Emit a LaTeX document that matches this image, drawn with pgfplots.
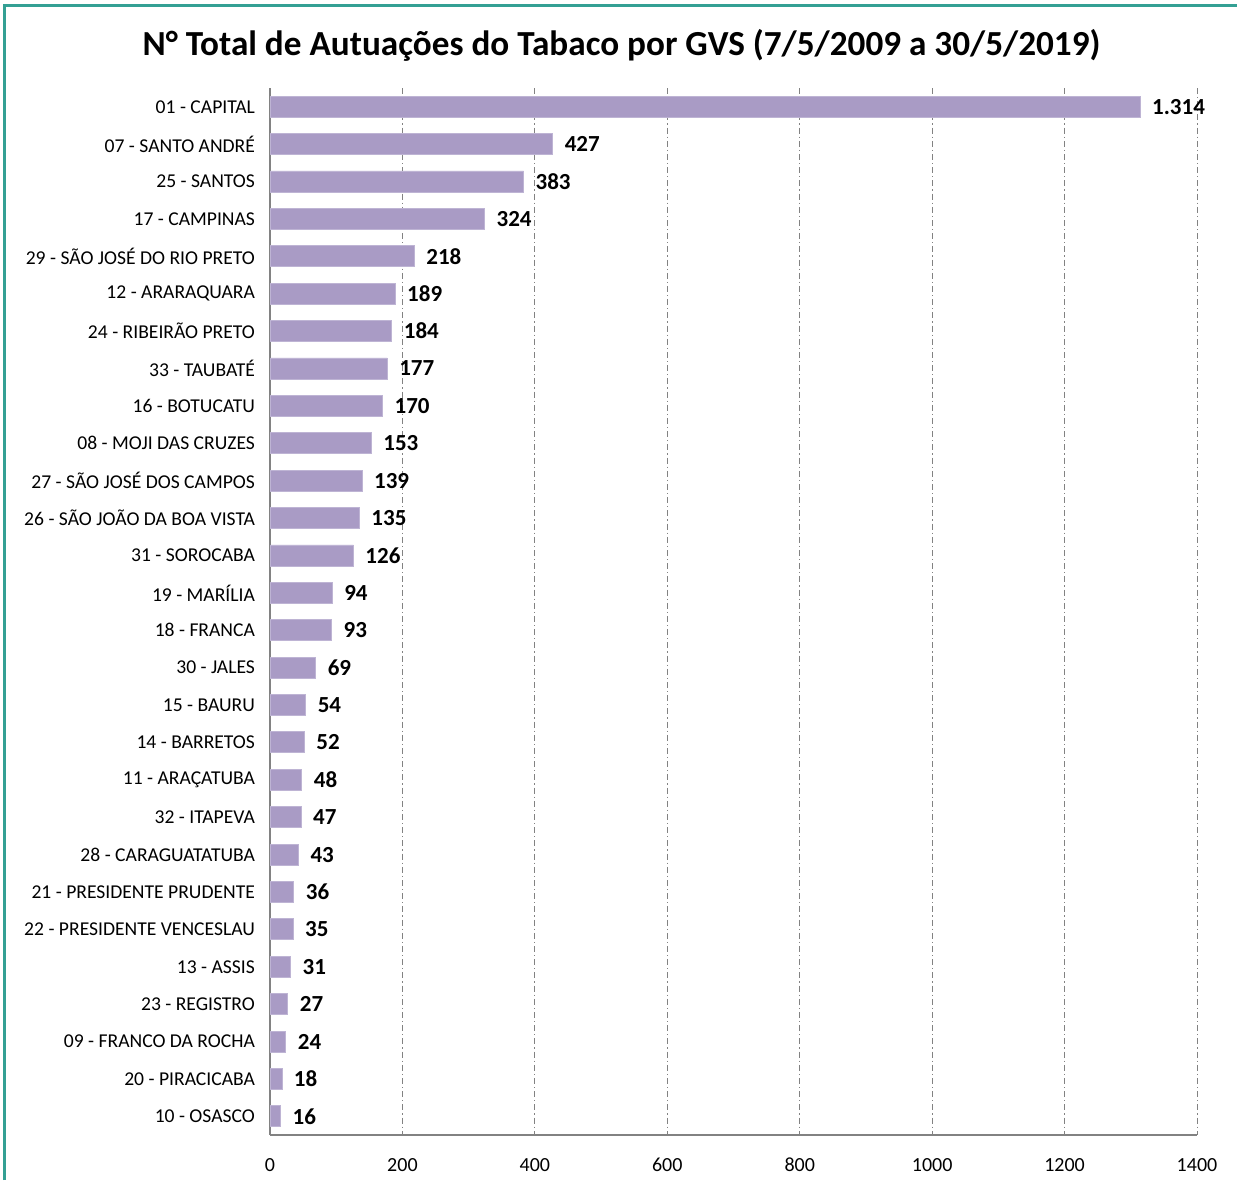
\documentclass[border=0pt]{standalone}
\usepackage{pgfplots}
\pgfplotsset{compat=1.18}
\usepackage{pgfplotstable}
\usepackage{fontspec}
\setmainfont{Carlito}
\definecolor{barcol}{RGB}{169,155,197}
\definecolor{baredge}{RGB}{190,180,212}
\definecolor{teal}{RGB}{52,160,148}
\definecolor{gridc}{RGB}{130,130,130}
\pgfplotstableread{
idx val
0 1314
1 427
2 383
3 324
4 218
5 189
6 184
7 177
8 170
9 153
10 139
11 135
12 126
13 94
14 93
15 69
16 54
17 52
18 48
19 47
20 43
21 36
22 35
23 31
24 27
25 24
26 18
27 16
}\datatab
\begin{document}
\begin{tikzpicture}
\useasboundingbox (0,0) rectangle (618.5pt,590pt);
\draw[teal,line width=1.2pt] (2.3pt,0) -- (2.3pt,587.3pt) -- (618.5pt,587.3pt);
\node[font=\bfseries\fontsize{17.6}{20}\selectfont] at (310.75pt,567.5pt) {N° Total de Autuações do Tabaco por GVS (7/5/2009 a 30/5/2019)};
\begin{axis}[
  at={(135pt,22.5pt)}, anchor=south west,
  scale only axis, width=463.5pt, height=523.5pt,
  xbar, bar width=10.5pt,
  xmin=0, xmax=1400,
  ymin=-0.5, ymax=27.5,
  y dir=reverse,
  axis lines*=left,
  axis line style={gridc, line width=0.6pt},
  xtick={0,200,...,1400},
  ytick=data,
  yticklabels={01 - CAPITAL,07 - SANTO ANDRÉ,25 - SANTOS,17 - CAMPINAS,29 - SÃO JOSÉ DO RIO PRETO,12 - ARARAQUARA,24 - RIBEIRÃO PRETO,33 - TAUBATÉ,16 - BOTUCATU,08 - MOJI DAS CRUZES,27 - SÃO JOSÉ DOS CAMPOS,26 - SÃO JOÃO DA BOA VISTA,31 - SOROCABA,19 - MARÍLIA,18 - FRANCA,30 - JALES,15 - BAURU,14 - BARRETOS,11 - ARAÇATUBA,32 - ITAPEVA,28 - CARAGUATATUBA,21 - PRESIDENTE PRUDENTE,22 - PRESIDENTE VENCESLAU,13 - ASSIS,23 - REGISTRO,09 - FRANCO DA ROCHA,20 - PIRACICABA,10 - OSASCO},
  major tick length=0pt,
  xmajorgrids,
  major grid style={gridc, dash pattern=on 3pt off 1.5pt on 0.6pt off 1.5pt, line width=0.5pt},
  yticklabel style={font=\fontsize{9.8}{11}\selectfont, xshift=-4pt},
  xticklabel style={font=\fontsize{10}{11}\selectfont, yshift=-8pt},
  /pgf/number format/assume math mode=true,
  xticklabel={\pgfmathprintnumber[1000 sep={}]{\tick}},
  nodes near coords,
  nodes near coords style={font=\bfseries\fontsize{11.5}{13}\selectfont, anchor=west, xshift=2.5pt, /pgf/number format/1000 sep={.}, /pgf/number format/assume math mode=true},
]
\addplot[fill=barcol, draw=baredge, line width=0.4pt] table[x=val, y=idx] {\datatab};
\end{axis}
\end{tikzpicture}
\end{document}
